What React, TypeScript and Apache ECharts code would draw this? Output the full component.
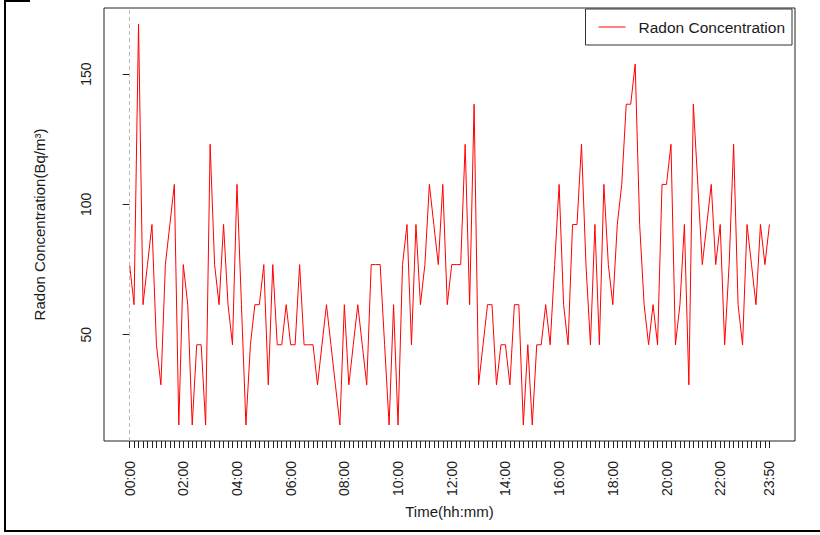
import React, { useEffect, useRef } from "react";
import * as echarts from "echarts";

// Radon concentration (Bq/m³), one reading every 10 minutes from 00:00 to 23:50
const radon: number[] = [
  76.92, 61.54, 169.23, 61.54, 76.92, 92.31, 46.15, 30.77, 76.92, 92.31,
  107.69, 15.38, 76.92, 61.54, 15.38, 46.15, 46.15, 15.38, 123.08, 76.92,
  61.54, 92.31, 61.54, 46.15, 107.69, 61.54, 15.38, 46.15, 61.54, 61.54,
  76.92, 30.77, 76.92, 46.15, 46.15, 61.54, 46.15, 46.15, 76.92, 46.15,
  46.15, 46.15, 30.77, 46.15, 61.54, 46.15, 30.77, 15.38, 61.54, 30.77,
  46.15, 61.54, 46.15, 30.77, 76.92, 76.92, 76.92, 46.15, 15.38, 61.54,
  15.38, 76.92, 92.31, 46.15, 92.31, 61.54, 76.92, 107.69, 92.31, 76.92,
  107.69, 61.54, 76.92, 76.92, 76.92, 123.08, 61.54, 138.46, 30.77, 46.15,
  61.54, 61.54, 30.77, 46.15, 46.15, 30.77, 61.54, 61.54, 15.38, 46.15,
  15.38, 46.15, 46.15, 61.54, 46.15, 76.92, 107.69, 61.54, 46.15, 92.31,
  92.31, 123.08, 76.92, 46.15, 92.31, 46.15, 107.69, 76.92, 61.54, 92.31,
  107.69, 138.46, 138.46, 153.85, 92.31, 61.54, 46.15, 61.54, 46.15, 107.69,
  107.69, 123.08, 46.15, 61.54, 92.31, 30.77, 138.46, 107.69, 76.92, 92.31,
  107.69, 76.92, 92.31, 46.15, 76.92, 123.08, 61.54, 46.15, 92.31, 76.92,
  61.54, 92.31, 76.92, 92.31,
];

// x tick labels (index of the 10-minute reading -> label)
const xLabelIndex: number[] = [0, 12, 24, 36, 48, 60, 72, 84, 96, 108, 120, 132, 143];
const xLabelText: string[] = [
  "00:00", "02:00", "04:00", "06:00", "08:00", "10:00", "12:00",
  "14:00", "16:00", "18:00", "20:00", "22:00", "23:50",
];
const yTicks: number[] = [50, 100, 150];

const seriesName = "Radon Concentration";
const FONT = "'Liberation Sans', Arial, Helvetica, sans-serif";
const TXT = "#1a1a1a";

export default function App() {
  const ref = useRef<HTMLDivElement>(null);

  useEffect(() => {
    document.body.style.margin = "0";
    if (!ref.current) return;
    const chart = echarts.init(ref.current, undefined, { renderer: "svg" });

    const n = radon.length;
    const pad = (n - 1) * 0.04;
    const yMinData = Math.min(...radon);
    const yMaxData = Math.max(...radon);
    const yPad = (yMaxData - yMinData) * 0.04;
    const allIdx = radon.map((_, i) => i);

    chart.setOption({
      animation: false,
      backgroundColor: "#ffffff",
      textStyle: { fontFamily: FONT },
      grid: {
        left: 104,
        right: 25,
        top: 8,
        bottom: 94,
        show: true,
        borderColor: "#222",
        borderWidth: 1,
        backgroundColor: "transparent",
      },
      legend: {
        show: true,
        right: 28,
        top: 9,
        orient: "horizontal",
        padding: [10, 7, 10, 13],
        borderColor: "#333",
        borderWidth: 1,
        backgroundColor: "#fff",
        itemWidth: 27,
        itemHeight: 1,
        icon: "rect",
        textStyle: { fontSize: 15.5, color: TXT, fontFamily: FONT, padding: [0, 0, 0, 8] },
        data: [{ name: seriesName, icon: "rect" }],
      },
      xAxis: {
        type: "value",
        min: -pad,
        max: n - 1 + pad,
        name: "Time(hh:mm)",
        nameLocation: "middle",
        nameGap: 58,
        nameTextStyle: { fontSize: 15, color: TXT, fontFamily: FONT },
        axisLine: { show: false },
        splitLine: { show: false },
        axisTick: {
          show: true,
          length: 7,
          lineStyle: { color: "#222", width: 1 },
          customValues: allIdx,
        },
        axisLabel: {
          show: true,
          rotate: 90,
          margin: 20,
          fontSize: 14,
          color: TXT,
          fontFamily: FONT,
          customValues: xLabelIndex,
          formatter: (v: number) => {
            const k = xLabelIndex.indexOf(Math.round(v));
            return k >= 0 ? xLabelText[k] : "";
          },
        },
      },
      yAxis: {
        type: "value",
        min: yMinData - yPad,
        max: yMaxData + yPad,
        name: "Radon Concentration(Bq/m³)",
        nameLocation: "middle",
        nameRotate: 90,
        nameGap: 57,
        nameTextStyle: { fontSize: 15, color: TXT, fontFamily: FONT },
        axisLine: { show: false },
        splitLine: { show: false },
        axisTick: {
          show: true,
          length: 7,
          lineStyle: { color: "#222", width: 1 },
          customValues: yTicks,
        },
        axisLabel: {
          show: true,
          rotate: 90,
          margin: 11,
          fontSize: 14,
          color: TXT,
          fontFamily: FONT,
          customValues: yTicks,
        },
      },
      series: [
        {
          name: seriesName,
          type: "line",
          data: radon.map((v, i) => [i, v]),
          symbol: "none",
          lineStyle: { color: "#ff0000", width: 1 },
          itemStyle: { color: "#ff0000" },
          markLine: {
            silent: true,
            symbol: "none",
            label: { show: false },
            lineStyle: { color: "#bbbbbb", type: [4, 3], width: 1 },
            data: [{ xAxis: 0 }],
          },
        },
      ],
      graphic: [
        { type: "line", shape: { x1: 5, y1: 0, x2: 5, y2: 531 }, style: { stroke: "#000", lineWidth: 2 } },
        { type: "line", shape: { x1: 4, y1: 531, x2: 820, y2: 531 }, style: { stroke: "#000", lineWidth: 2 } },
        { type: "line", shape: { x1: 4, y1: 1, x2: 30, y2: 1 }, style: { stroke: "#000", lineWidth: 2 } },
      ],
    });

    return () => chart.dispose();
  }, []);

  return (
    <div
      ref={ref}
      style={{ position: "absolute", left: 0, top: 0, width: 820, height: 535 }}
    />
  );
}
